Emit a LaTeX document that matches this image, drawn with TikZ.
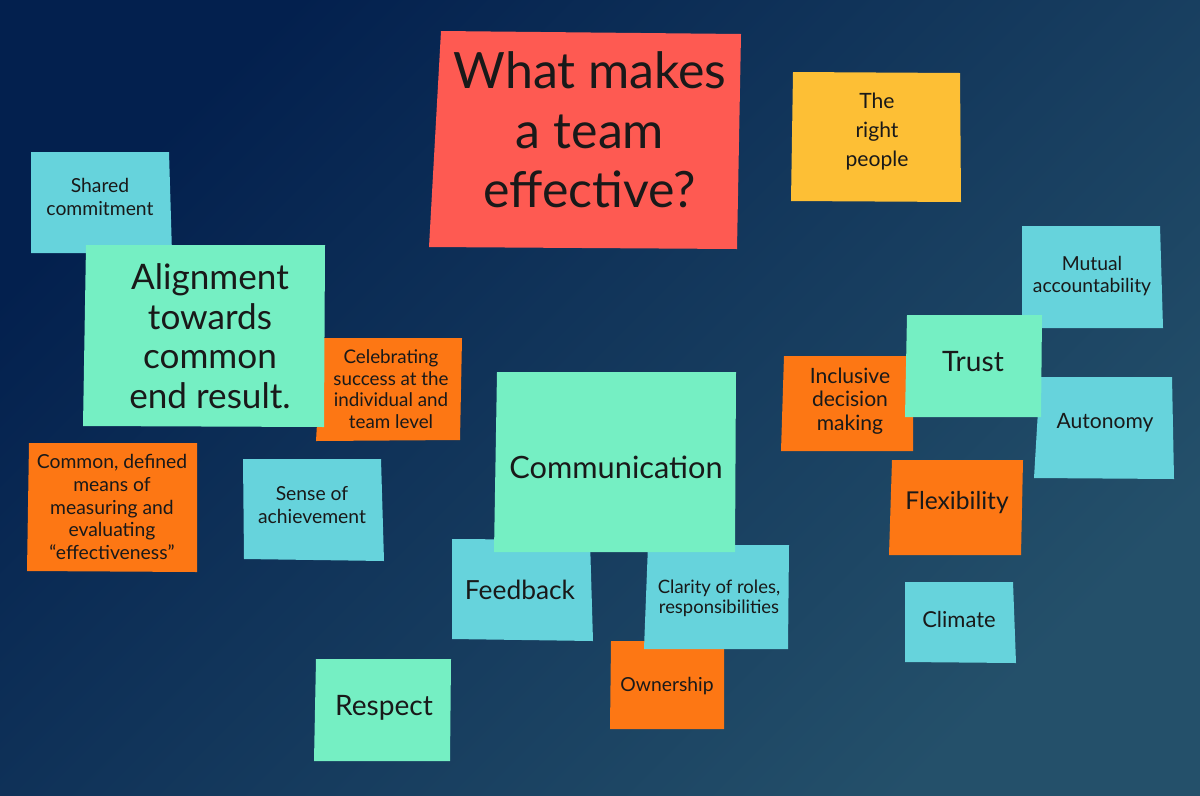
\documentclass[tikz,border=0pt]{standalone}
\usepackage{fontspec}
\setmainfont{Lato}
\usepackage{xcolor}
\usepackage{tikz}
\definecolor{bgdark}{HTML}{03204E}
\definecolor{bglight}{HTML}{24506A}
\definecolor{notered}{HTML}{FE5A52}
\definecolor{noteyellow}{HTML}{FDBF35}
\definecolor{notecyan}{HTML}{66D3DC}
\definecolor{notemint}{HTML}{75EFC3}
\definecolor{noteorange}{HTML}{FD7714}
\newcommand{\fsz}[2]{\fontsize{#1}{#2}\selectfont}
\tikzset{notetext/.style={align=center, inner sep=0pt, text=black!90}}

\begin{document}
\begin{tikzpicture}[x=0.02cm,y=-0.02cm]
		\useasboundingbox (0,0) rectangle (1200,795);
		\shade[top color=bgdark, bottom color=bglight, shading angle=45] (0,0) rectangle (1200,795);
		
		% question and the right people
		\fill[notered] (441,31) -- (741,34) -- (737,249) -- (429,247) -- cycle;
		\node[notetext, font=\fsz{28.5}{34}] (question) at (590,130) {What makes\\a team\\effective?};
		\fill[noteyellow] (793,72) -- (960,73) -- (961,202) -- (791,201) -- cycle;
		\node[notetext, font=\fsz{12}{16.5}] (people) at (877,132) {The\\right\\people};
		
		% left side
		\fill[notecyan] (31,152) -- (169,152) -- (172,253) -- (31,253) -- cycle;
		\node[notetext, font=\fsz{11}{13.6}] (shared) at (100,197) {Shared\\commitment};
		\fill[noteorange] (322,338) -- (462,338) -- (460,440) -- (316,441) -- cycle;
		\node[notetext, font=\fsz{10.7}{12.2}] (celebrate) at (391,389) {Celebrating\\success at the\\individual and\\team level};
		\fill[notemint] (86,245) -- (325,245) -- (324,427) -- (83,426) -- cycle;
		\node[notetext, font=\fsz{20}{22.5}] (alignment) at (210,336) {Alignment\\towards\\common\\end result.};
		\fill[noteorange] (29,443) -- (197,443) -- (197,572) -- (27,571) -- cycle;
		\node[notetext, font=\fsz{11}{13}] (measure) at (112,507) {Common, defined\\means of\\measuring and\\evaluating\\“effectiveness”};
		\fill[notecyan] (243,459) -- (381,459) -- (384,561) -- (244,559) -- cycle;
		\node[notetext, font=\fsz{11}{13.6}] (sense) at (312,505) {Sense of\\achievement};
		\fill[notemint] (316,659) -- (451,659) -- (450,761) -- (314,761) -- cycle;
		\node[notetext, font=\fsz{16}{19}] (respect) at (384,708) {Respect};
		
		% communication
		\fill[noteorange] (611,641) -- (724,641) -- (724,729) -- (610,729) -- cycle;
		\node[notetext, font=\fsz{11}{14}] (ownership) at (667,686) {Ownership};
		\fill[notecyan] (648,545) -- (789,545) -- (788,649) -- (644,649) -- cycle;
		\node[notetext, font=\fsz{10.5}{11.5}] (clarity) at (719,598) {Clarity of roles,\\responsibilities};
		\fill[notecyan] (452,539) -- (590,540) -- (593,641) -- (452,639) -- cycle;
		\node[notetext, font=\fsz{15}{18}] (feedback) at (520,590) {Feedback};
		\fill[notemint] (497,372) -- (736,372) -- (735,552) -- (494,552) -- cycle;
		\node[notetext, font=\fsz{17.5}{21}] (communication) at (616,467) {Communication};
		
		% trust
		\fill[notecyan] (1022,226) -- (1160,226) -- (1163,328) -- (1022,328) -- cycle;
		\node[notetext, font=\fsz{11}{13}] (mutual) at (1092,276) {Mutual\\accountability};
		\fill[noteorange] (784,356) -- (913,356) -- (913,451) -- (781,451) -- cycle;
		\node[notetext, font=\fsz{12}{13.2}] (inclusive) at (850,401) {Inclusive\\decision\\making};
		\fill[notecyan] (1040,377) -- (1172,377) -- (1174,479) -- (1034,478) -- cycle;
		\node[notetext, font=\fsz{12}{15}] (autonomy) at (1105,423) {Autonomy};
		\fill[notemint] (907,315) -- (1042,315) -- (1041,417) -- (905,417) -- cycle;
		\node[notetext, font=\fsz{16}{19}] (trust) at (973,362) {Trust};
		\fill[noteorange] (892,460) -- (1023,460) -- (1021,555) -- (889,555) -- cycle;
		\node[notetext, font=\fsz{14}{16}] (flexibility) at (957,503) {Flexibility};
		\fill[notecyan] (905,582) -- (1013,582) -- (1016,663) -- (905,662) -- cycle;
		\node[notetext, font=\fsz{12.5}{15}] (climate) at (959,619) {Climate};
\end{tikzpicture}
\end{document}
